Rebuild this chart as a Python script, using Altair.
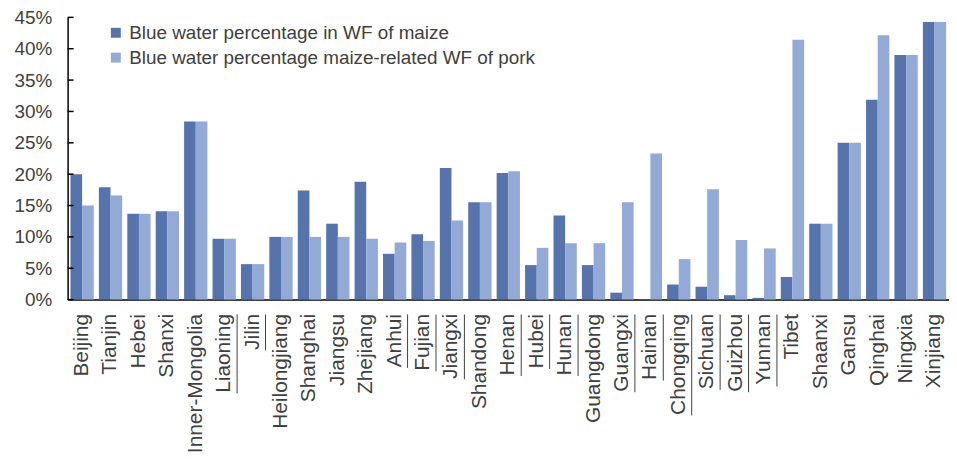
import altair as alt
import pandas as pd

provinces = ["Beijing", "Tianjin", "Hebei", "Shanxi", "Inner-Mongolia", "Liaoning", "Jilin",
             "Heilongjiang", "Shanghai", "Jiangsu", "Zhejiang", "Anhui", "Fujian", "Jiangxi",
             "Shandong", "Henan", "Hubei", "Hunan", "Guangdong", "Guangxi", "Hainan",
             "Chongqing", "Sichuan", "Guizhou", "Yunnan", "Tibet", "Shaanxi", "Gansu",
             "Qinghai", "Ningxia", "Xinjiang"]
maize = [20.0, 17.9, 13.7, 14.1, 28.4, 9.7, 5.65, 10.0, 17.4, 12.1, 18.8, 7.3, 10.4, 21.0,
         15.5, 20.2, 5.5, 13.4, 5.5, 1.1, 0.05, 2.4, 2.05, 0.7, 0.27, 3.6, 12.1, 25.0,
         31.85, 39.0, 44.25]
pork = [15.0, 16.6, 13.7, 14.1, 28.4, 9.7, 5.65, 10.0, 10.0, 10.0, 9.7, 9.1, 9.35, 12.6,
        15.5, 20.45, 8.25, 9.0, 9.0, 15.5, 23.3, 6.45, 17.6, 9.5, 8.15, 41.45, 12.1, 25.0,
        42.15, 39.0, 44.25]
underlined = ["Liaoning", "Jilin", "Anhui", "Fujian", "Jiangxi", "Henan", "Hubei", "Hunan",
              "Guangxi", "Hainan", "Chongqing", "Sichuan", "Guizhou", "Yunnan"]
series_names = ["Blue water percentage in WF of maize",
                "Blue water percentage maize-related WF of pork"]
y_ticks = [0, 5, 10, 15, 20, 25, 30, 35, 40, 45]
colors = ["#5673AB", "#93A9D6"]

W, H = 887, 284
FONT = "Liberation Sans"
XFS = 21
LABEL_PAD = 14

rows = []
for p, a, b in zip(provinces, maize, pork):
    rows.append({"province": p, "series": series_names[0], "value": a})
    rows.append({"province": p, "series": series_names[1], "value": b})
df = pd.DataFrame(rows)

# Arial advance widths (em) for underline lengths
aw = {"L": .556, "J": .5, "A": .667, "F": .611, "H": .722, "G": .778, "C": .722, "S": .667,
      "Y": .667, "a": .556, "b": .556, "c": .5, "d": .556, "e": .556, "g": .556, "h": .556,
      "i": .222, "j": .222, "l": .222, "n": .556, "o": .556, "q": .556, "u": .556, "x": .5,
      "z": .5, "s": .5, "r": .333, "t": .278}
ul = pd.DataFrame({
    "province": underlined,
    "y0": [H + LABEL_PAD + 1 for _ in underlined],
    "y1": [H + LABEL_PAD + 1 + sum(aw.get(c, .556) for c in u) * XFS for u in underlined],
})
ticks_df = pd.DataFrame({"v": y_ticks})

xscale = alt.Scale(domain=provinces, paddingInner=0.18, paddingOuter=0.1)
yscale = alt.Scale(domain=[0, 45], nice=False)

x_axis = alt.Axis(title=None, labelAngle=-90, labelFontSize=XFS, labelFont=FONT,
                  labelColor="#404040", ticks=False, labelPadding=LABEL_PAD,
                  domainColor="#000000", domainWidth=1.5, labelOverlap=False)
y_axis = alt.Axis(title=None, values=y_ticks, labelExpr="datum.value + '%'",
                  labelFontSize=19, labelFont=FONT, labelColor="#404040", ticks=False,
                  grid=False, domainColor="#000000", domainWidth=1.5, labelPadding=16,
                  labelOverlap=False, labelFlush=False)

bars = alt.Chart(df).mark_bar().encode(
    x=alt.X("province:N", sort=provinces, scale=xscale, axis=x_axis),
    xOffset=alt.XOffset("series:N", sort=series_names),
    y=alt.Y("value:Q", scale=yscale, axis=y_axis),
    color=alt.Color("series:N", sort=series_names,
                    scale=alt.Scale(domain=series_names, range=colors),
                    legend=alt.Legend(title=None, orient="none", legendX=39, legendY=6,
                                      symbolType="square", symbolSize=100, symbolStrokeWidth=0,
                                      labelFontSize=19, labelFont=FONT, labelColor="#404040",
                                      rowPadding=5, labelLimit=600)),
)

ytick_marks = alt.Chart(ticks_df).mark_rule(color="#000000", strokeWidth=1.5).encode(
    y=alt.Y("v:Q", scale=yscale, axis=y_axis),
    x=alt.value(0),
    x2=alt.value(6),
)

lines = alt.Chart(ul).mark_rule(color="#404040", strokeWidth=1, xOffset=13).encode(
    x=alt.X("province:N", sort=provinces, scale=xscale, axis=x_axis),
    y=alt.Y("y0:Q", scale=None),
    y2="y1:Q",
)

chart = alt.layer(bars, ytick_marks, lines).properties(
    width=W, height=H,
    autosize=alt.AutoSizeParams(type="none"),
    padding={"left": 60, "top": 8, "right": 0, "bottom": 158},
).configure_view(stroke=None)

chart.save("out.html", embed_options={"renderer": "svg", "actions": False})
